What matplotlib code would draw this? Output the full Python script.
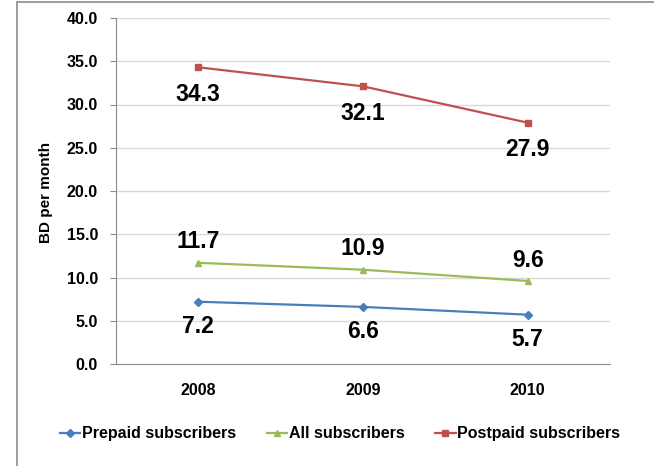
import matplotlib
matplotlib.use("Agg")
from matplotlib import pyplot as plt
from matplotlib.patches import Rectangle

years = ['2008', '2009', '2010']
prepaid = [7.2, 6.6, 5.7]
all_subs = [11.7, 10.9, 9.6]
postpaid = [34.3, 32.1, 27.9]
y_ticks = [0, 5, 10, 15, 20, 25, 30, 35, 40]

plt.rcParams['font.family'] = ['Liberation Sans', 'DejaVu Sans']
plt.rcParams['font.weight'] = 'bold'

fig = plt.figure(figsize=(6.54, 4.66), dpi=100)
ax = fig.add_axes([116 / 654, 1 - 364 / 466, 494 / 654, 346 / 466])

# outer chart border (cropped at right/bottom like the screenshot)
fig.patches.append(Rectangle((17 / 654, -0.1), 1.2, 1 - 2 / 466 + 0.1,
                             transform=fig.transFigure, fill=False,
                             edgecolor='#8c8c8c', linewidth=1.2))

x = range(len(years))
series = [
    ('Prepaid subscribers', prepaid, '#4a7ebb', 'D', 4, -18),
    ('All subscribers', all_subs, '#9bbb59', '^', 5, 15),
    ('Postpaid subscribers', postpaid, '#c0504d', 's', 5, -19.5),
]

for label, vals, color, marker, ms, off in series:
    ax.plot(x, vals, color=color, marker=marker, markersize=ms,
            linewidth=1.6, label=label)
    for xi, v in zip(x, vals):
        ax.annotate(f'{v:.1f}', (xi, v), xytext=(0, off), textcoords='offset points',
                    ha='center', va='center', fontsize=16.5, fontweight='bold')

ax.set_xlim(-0.5, 2.5)
ax.set_ylim(0, 40)
ax.set_yticks(y_ticks)
ax.set_yticklabels([f'{t:.1f}' for t in y_ticks], fontsize=11.5, fontweight='bold')
ax.set_xticks(list(x))
ax.set_xticklabels(years, fontsize=11.5, fontweight='bold')
ax.tick_params(axis='x', length=0, pad=14)
ax.tick_params(axis='y', length=4, color='#8c8c8c', pad=9)
ax.grid(axis='y', color='#d9d9d9', linewidth=1)
ax.set_axisbelow(True)
for s in ['top', 'right']:
    ax.spines[s].set_visible(False)
ax.spines['left'].set_color('#8c8c8c')
ax.spines['bottom'].set_color('#8c8c8c')

fig.text(46 / 654, 1 - 192 / 466, 'BD per month', rotation=90, ha='center',
         va='center', fontsize=11, fontweight='bold')

ax.legend(loc='center', bbox_to_anchor=(340 / 654, 1 - 434 / 466),
          bbox_transform=fig.transFigure, ncol=3, frameon=False,
          handlelength=1.3, handletextpad=0.1, columnspacing=1.9,
          prop={'weight': 'bold', 'size': 11.5})

fig.savefig('out.png', dpi=100)
